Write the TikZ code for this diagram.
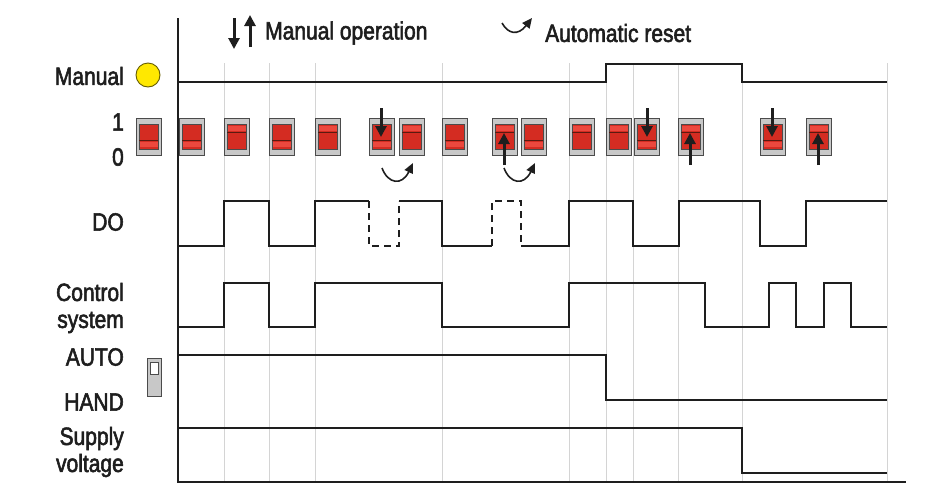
\documentclass[tikz,border=0pt]{standalone}
\usepackage{fontspec}
\setmainfont{Liberation Sans}[FakeStretch=0.84,FakeBold=2.2]
\usetikzlibrary{arrows.meta}
\definecolor{inkdark}{RGB}{30,30,30}
\definecolor{gridgray}{RGB}{212,212,212}
\definecolor{swgray}{RGB}{200,200,200}
\definecolor{swred}{RGB}{212,44,34}
\definecolor{swlight}{RGB}{236,72,62}
\definecolor{swline}{RGB}{90,26,16}
\definecolor{lampyellow}{RGB}{255,232,0}
\tikzset{
  sig/.style={line width=1.6pt,draw=inkdark},
  gridln/.style={line width=0.9pt,draw=gridgray},
  lbl/.style={anchor=east,inner sep=0pt,align=right,text=inkdark,
    font=\fontsize{25}{27}\selectfont},
  legtext/.style={anchor=west,inner sep=0pt,text=inkdark,
    font=\fontsize{25}{27}\selectfont},
  marrow/.style={line width=3pt,draw=inkdark,-{Triangle[width=11pt,length=11pt]}},
  rarrow/.style={line width=1.6pt,draw=inkdark,-{Triangle[width=9pt,length=10pt]}},
}
\begin{document}
\begin{tikzpicture}[x=1pt,y=-1pt]
\useasboundingbox (0,0) rectangle (945,496);
% grid
\foreach \g in {224,269,315,442,569,606,633,678,742,887}
	\draw[gridln] (\g,63) -- (\g,482);
% axes
\coordinate (O) at (178,482);
\draw[line width=1.3pt,draw=inkdark] (178,18) -- (O) -- (906,482);
% legend
\draw[marrow] (234,18) -- (234,49);
\draw[marrow] (250,47) -- (250,15);
\node[legtext] (legman) at (265,33) {Manual operation};
\draw[rarrow] (502,23) .. controls (508,34) and (518,36) .. (532,18);
\node[legtext] (legauto) at (545,33) {Automatic reset};
% row labels
\node[lbl] (lblmanual) at (124,76) {Manual};
\node[lbl] (lblone) at (124,122) {1};
\node[lbl] (lblzero) at (124,157) {0};
\node[lbl] (lbldo) at (124,222) {DO};
\node[lbl] (lblcs) at (124,308) {Control\\system};
\node[lbl] (lblauto) at (124,357) {AUTO};
\node[lbl] (lblhand) at (124,402) {HAND};
\node[lbl] (lblsupply) at (124,452) {Supply\\voltage};
% lamp and selector
\draw[fill=lampyellow,draw=black!60!lampyellow,line width=0.9pt] (148,75) circle (12);
\draw[fill=swgray,draw=inkdark!80,line width=0.9pt] (147,358) rectangle (161,396);
\draw[fill=white,draw=inkdark!80,line width=0.7pt] (150,362) rectangle (158,374);
% switch positions
\foreach \x/\s in {136/0,179/0,224/1,269/0,315/1,369/0,399/1,442/0,492/1,521/0,
                   569/1,606/1,634/0,678/1,760/0,806/1}{
	\draw[fill=swgray,draw=inkdark!80,line width=0.8pt] (\x,118) rectangle ++(25,37);
	\draw[fill=swred,draw=inkdark!80,line width=0.8pt] (\x+3,124) rectangle ++(19,25);
	\ifnum\s=0
		\fill[swlight] (\x+3.5,142) rectangle ++(18,5);
		\draw[swline,line width=0.9pt] (\x+3,140) -- ++(19,0);
	\else
		\fill[swlight] (\x+3.5,126) rectangle ++(18,5);
		\draw[swline,line width=0.9pt] (\x+3,132) -- ++(19,0);
	\fi
}
% manual actions
\foreach \x in {381,647,772}
	\draw[marrow] (\x,108) -- (\x,137);
\foreach \x in {504,690,818}
	\draw[marrow] (\x,165) -- (\x,133);
\foreach \x in {382,504}
	\draw[rarrow] (\x,168) .. controls (\x+6,184) and (\x+20,186) .. (\x+31,163);
% signals
\draw[sig] (178,82) -- (606,82) -- (606,64) -- (742,64) -- (742,82) -- (887,82);
\draw[sig] (178,246) -| (224,201) -| (269,246) -| (315,201) -- (369,201);
\draw[sig,dashed,dash pattern=on 7pt off 5pt] (369,201) |- (399,246) -- (399,201);
\draw[sig] (399,201) -| (442,246) -- (492,246);
\draw[sig,dashed,dash pattern=on 7pt off 5pt] (492,246) |- (521,201) -- (521,246);
\draw[sig] (521,246) -| (569,201) -| (633,246) -| (679,201) -| (760,246) -| (806,201) -- (887,201);
\draw[sig] (178,327) -| (224,283) -| (269,327) -| (315,283) -| (442,327) -| (569,283)
	-| (705,327) -| (769,283) -| (796,327) -| (824,283) -| (851,327) -- (887,327);
\draw[sig] (178,355) -| (606,400) -- (887,400);
\draw[sig] (178,428) -| (742,473) -- (887,473);
\end{tikzpicture}
\end{document}
